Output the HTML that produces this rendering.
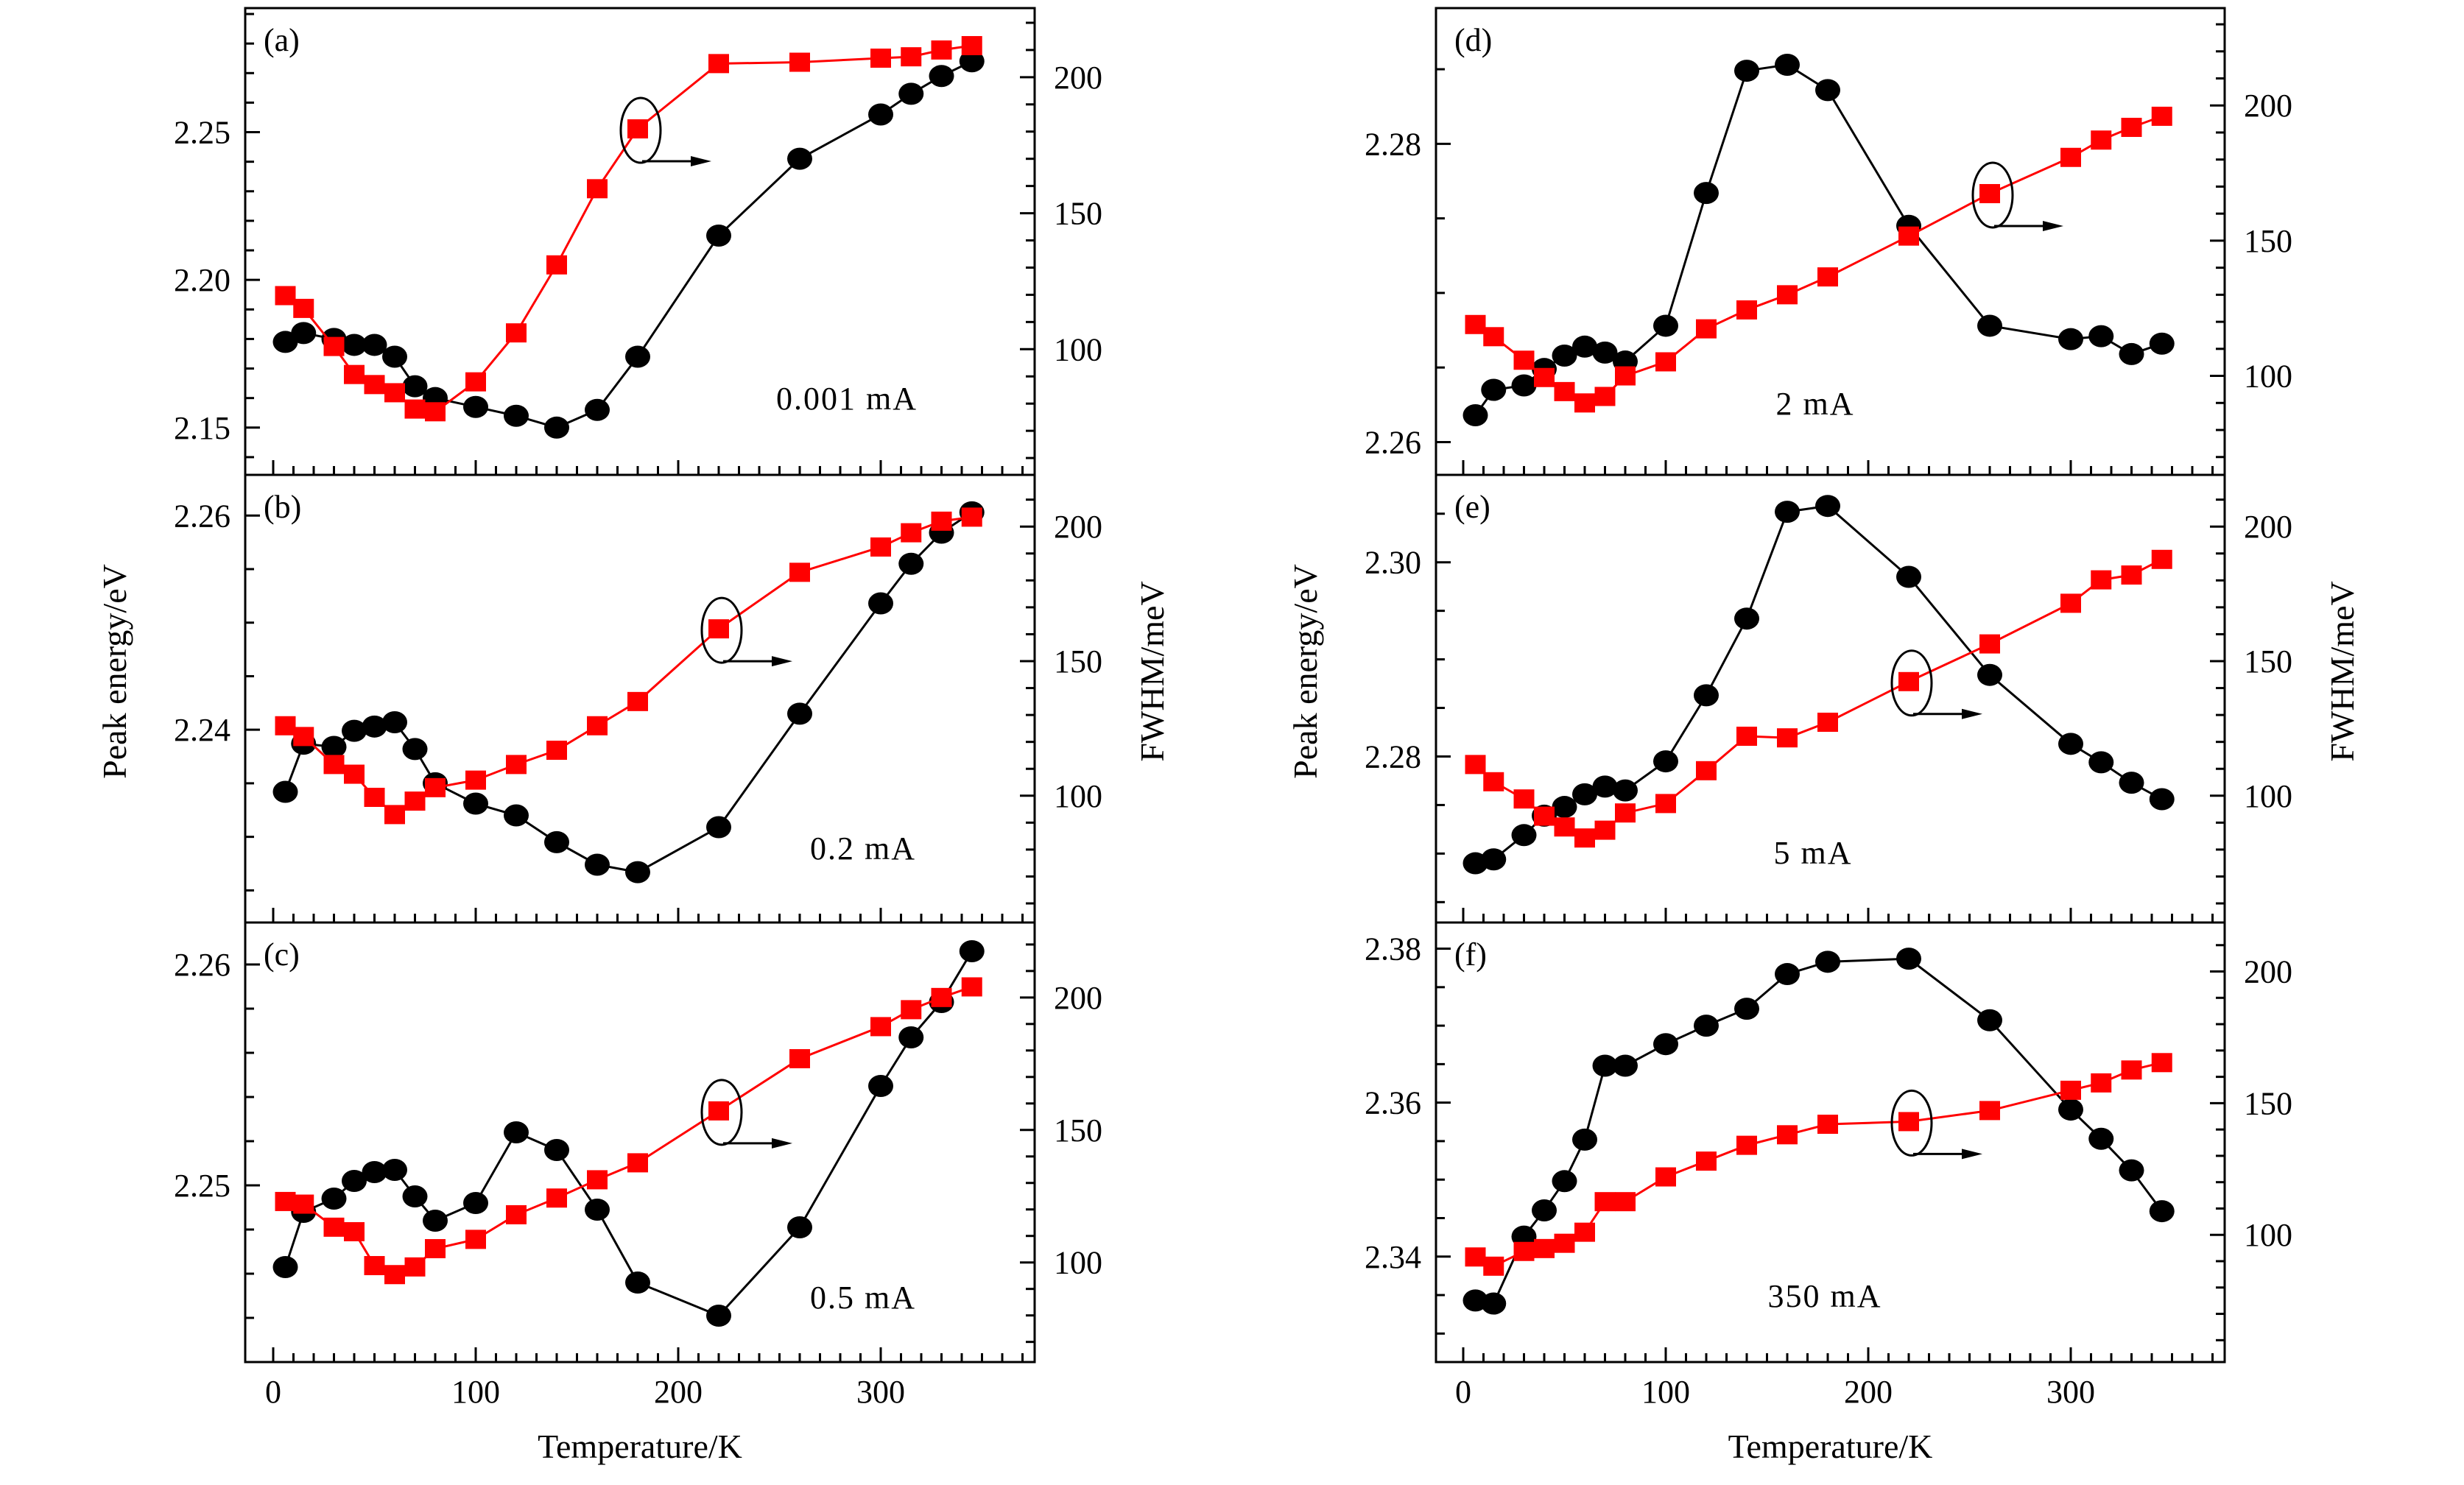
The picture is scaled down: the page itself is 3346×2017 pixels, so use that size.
<!DOCTYPE html>
<html><head><meta charset="utf-8">
<style>
html,body{margin:0;padding:0;background:#fff;}
svg{display:block;font-family:"Liberation Serif","DejaVu Serif",serif;}
</style></head>
<body>
<svg id="fig" width="3346" height="2017" viewBox="0 0 3346 2017" xmlns="http://www.w3.org/2000/svg"></svg>
<script>
const temps = [6,15,30,40,50,60,70,80,100,120,140,160,180,220,260,300,315,330,345];
const peakA = [2.179,2.182,2.180,2.178,2.178,2.174,2.164,2.160,2.157,2.154,2.150,2.156,2.174,2.215,2.241,2.256,2.263,2.269,2.274];
const fwhmA = [119.7,115,101,90.7,87,84,78,77,88,106,131,159,181,205,205.5,207,207.5,210,211.6];
const peakB = [2.2342,2.2387,2.2384,2.2399,2.2403,2.2407,2.2382,2.2350,2.2331,2.2320,2.2295,2.2274,2.2267,2.2309,2.2415,2.2518,2.2555,2.2584,2.2603];
const fwhmB = [126,122,111.6,108,99.4,93,98,103,105.8,111.6,116.9,126,135,162,183,192.4,197.7,202,203.5];
const peakC = [2.2463,2.2488,2.2494,2.2502,2.2506,2.2507,2.2495,2.2484,2.2492,2.2524,2.2516,2.2489,2.2456,2.2441,2.2481,2.2545,2.2567,2.2583,2.2606];
const fwhmC = [123,122,113.3,111.6,98.8,95.4,98.3,105.2,108.7,118,124.3,131.2,137.6,157.2,176.9,189,195.4,200,204];
const peakD = [2.2618,2.2635,2.2638,2.2649,2.2658,2.2664,2.2660,2.2654,2.2678,2.2767,2.2849,2.2853,2.2836,2.2745,2.2678,2.2669,2.2671,2.2659,2.2666];
const fwhmD = [119,114.5,105.8,99.4,94.2,90,92.4,100,105.2,117.4,124.4,130,136.6,151.7,167.4,180.8,187.2,191.9,196];
const peakE = [2.2690,2.2694,2.2719,2.2739,2.2748,2.2761,2.2769,2.2765,2.2795,2.2863,2.2942,2.3052,2.3058,2.2985,2.2884,2.2813,2.2794,2.2773,2.2756];
const fwhmE = [111.6,105.2,98.8,92.4,88.4,84.3,87.2,93.6,97.1,109.3,122.1,121.5,127.3,142.4,156.4,171.5,180.2,182,187.8];
const peakF = [2.3343,2.3339,2.3426,2.3460,2.3498,2.3552,2.3648,2.3648,2.3676,2.3700,2.3722,2.3767,2.3783,2.3787,2.3707,2.3591,2.3553,2.3512,2.3459];
const fwhmF = [91.6,88.1,93.7,94.8,96.8,101,112.6,112.6,122,128,134,138,142,143,147.2,154.9,157.7,162.6,165.4];
const xTicks = [0,100,200,300];
const panelLabels = ["(a)","(b)","(c)","(d)","(e)","(f)"];
const currentLabels = ["0.001 mA","0.2 mA","0.5 mA","2 mA","5 mA","350 mA"];
const leftTicksA = [2.15,2.20,2.25];
const leftTicksB = [2.24,2.26];
const leftTicksC = [2.25,2.26];
const leftTicksD = [2.26,2.28];
const leftTicksE = [2.28,2.30];
const leftTicksF = [2.34,2.36,2.38];
const rightTicks = [100,150,200];

const NS="http://www.w3.org/2000/svg";
const svg=document.getElementById('fig');
function mk(tag,attrs,parent){const e=document.createElementNS(NS,tag);for(const k in attrs)e.setAttribute(k,attrs[k]);(parent||svg).appendChild(e);return e;}

const rows=[[11,645],[645,1253],[1253,1850]];
const cols=[{x0:333,x1:1405,z:371},{x0:1950,x1:3021,z:1987}];
const kpx=2.75;
const panels=[
 {c:0,r:0,peak:peakA,fwhm:fwhmA,lt:leftTicksA,lmin:2.134,lmax:2.292,lminor:0.01,rmin:53.8,rmax:225.4,ann:12,cur:[1150,541]},
 {c:0,r:1,peak:peakB,fwhm:fwhmB,lt:leftTicksB,lmin:2.2220,lmax:2.2638,lminor:0.005,rmin:52.9,rmax:219.2,ann:13,cur:[1172,1152]},
 {c:0,r:2,peak:peakC,fwhm:fwhmC,lt:leftTicksC,lmin:2.2420,lmax:2.2619,lminor:0.002,rmin:62.4,rmax:228.3,ann:13,cur:[1172,1762]},
 {c:1,r:0,peak:peakD,fwhm:fwhmD,lt:leftTicksD,lmin:2.2578,lmax:2.2891,lminor:0.005,rmin:63.4,rmax:236,ann:14,cur:[2465,548]},
 {c:1,r:1,peak:peakE,fwhm:fwhmE,lt:leftTicksE,lmin:2.2629,lmax:2.309,lminor:0.005,rmin:52.9,rmax:219.2,ann:13,cur:[2462,1158]},
 {c:1,r:2,peak:peakF,fwhm:fwhmF,lt:leftTicksF,lmin:2.3263,lmax:2.3834,lminor:0.005,rmin:51.7,rmax:218.6,ann:13,cur:[2478,1760]}
];

panels.forEach((p,i)=>{
  const col=cols[p.c],[y0,y1]=rows[p.r];
  const g=mk('g',{});
  
  
  const X=t=>col.z+t*kpx;
  const YL=v=>y1-(v-p.lmin)/(p.lmax-p.lmin)*(y1-y0);
  const YR=v=>y1-(v-p.rmin)/(p.rmax-p.rmin)*(y1-y0);
  for(let t=0;t<=370;t+=10){
    const big=t%100===0;
    const tk=mk('line',{x1:X(t),x2:X(t),y1:y1,y2:y1-(big?20:12),stroke:'#000','stroke-width':3},g);
    
    
  }
  const step=p.lminor;
  for(let v=Math.ceil(p.lmin/step-1e-6)*step; v<=p.lmax+1e-9; v+=step){
    const y=YL(v);
    const major=p.lt.some(m=>Math.abs(m-v)<1e-7);
    const tk=mk('line',{x1:col.x0,x2:col.x0+(major?20:12),y1:y,y2:y,stroke:'#000','stroke-width':3},g);
    
    
  }
  p.lt.forEach(v=>{
    const t=mk('text',{x:col.x0-20,y:YL(v)+15,'text-anchor':'end','font-size':44},g);
    t.textContent=v.toFixed(2);
    
    
  });
  for(let v=Math.ceil(p.rmin/10)*10; v<=p.rmax; v+=10){
    const y=YR(v);const major=v%50===0;
    const tk=mk('line',{x1:col.x1,x2:col.x1-(major?20:12),y1:y,y2:y,stroke:'#000','stroke-width':3},g);
    
    
  }
  rightTicks.forEach(v=>{
    if(v<p.rmin||v>p.rmax)return;
    const t=mk('text',{x:col.x1+26,y:YR(v)+15,'font-size':44},g);
    t.textContent=String(v);
    
    
  });
  const fr=mk('rect',{x:col.x0,y:y0,width:col.x1-col.x0,height:y1-y0,fill:'none',stroke:'#000','stroke-width':3},g);
  
  
  const bl=mk('polyline',{points:temps.map((t,j)=>X(t)+','+YL(p.peak[j])).join(' '),fill:'none',stroke:'#000','stroke-width':3},g);
  
  
  temps.forEach((t,j)=>{
    const c=mk('ellipse',{cx:X(t),cy:YL(p.peak[j]),rx:17,ry:15,fill:'#000'},g);
    
    
  });
  const rl=mk('polyline',{points:temps.map((t,j)=>X(t)+','+YR(p.fwhm[j])).join(' '),fill:'none',stroke:'#f00','stroke-width':3},g);
  
  
  temps.forEach((t,j)=>{
    const s=mk('rect',{x:X(t)-14,y:YR(p.fwhm[j])-13,width:28,height:26,fill:'#f00'},g);
    
    
  });
  const ax=X(temps[p.ann]),ay=YR(p.fwhm[p.ann]);
  const el=mk('ellipse',{cx:ax+4,cy:ay+2,rx:27,ry:44,fill:'none',stroke:'#000','stroke-width':3},g);
  
  
  const ln=mk('line',{x1:ax+6,y1:ay+44,x2:ax+78,y2:ay+44,stroke:'#000','stroke-width':3},g);
  
  
  const ah=mk('polygon',{points:(ax+100)+','+(ay+44)+' '+(ax+72)+','+(ay+37)+' '+(ax+72)+','+(ay+51),fill:'#000'},g);
  
  
  const pl=mk('text',{x:col.x0+25,y:y0+58,'font-size':44},g);
  pl.textContent=panelLabels[i];
  
  
  const cl=mk('text',{x:p.cur[0],y:p.cur[1]+15,'font-size':44,'text-anchor':'middle','letter-spacing':'2'},g);
  cl.textContent=currentLabels[i];
  
  
});
cols.forEach((col,ci)=>{
  xTicks.forEach(t=>{
    const e=mk('text',{x:col.z+t*kpx,y:1905,'text-anchor':'middle','font-size':44});
    e.textContent=String(t);
    
    
  });
  const xt=mk('text',{x:(col.x0+col.x1)/2,y:1980,'text-anchor':'middle','font-size':46});
  xt.textContent='Temperature/K';
  
  
  const ly=mk('text',{x:0,y:0,'text-anchor':'middle','font-size':46,transform:'translate('+(col.x0-162)+',912) rotate(-90)'});
  ly.textContent='Peak energy/eV';
  
  
  const ry=mk('text',{x:0,y:0,'text-anchor':'middle','font-size':46,transform:'translate('+(col.x1+175)+',912) rotate(-90)'});
  ry.textContent='FWHM/meV';
  
  
});
</script>
</body></html>
